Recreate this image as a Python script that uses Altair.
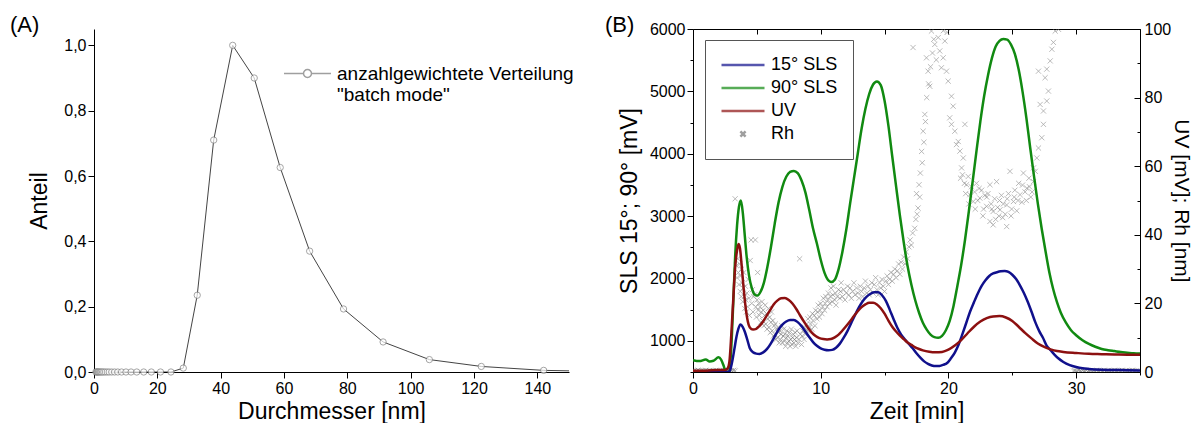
import altair as alt
import pandas as pd

FONT = "Liberation Sans"

# ---------------- Panel A data ----------------
diam = [0.6, 0.8, 1.0, 1.2, 1.4, 1.7, 2.0, 2.3, 2.7, 3.1, 3.6, 4.2, 4.8, 5.6, 6.5, 7.5, 8.7,
        10.1, 11.7, 13.5, 15.7, 18.1, 21.0, 24.3, 28.2, 32.6, 37.8, 43.8, 50.6, 58.8, 68.1,
        78.8, 91.3, 105.9, 122.3, 142.0, 164.5]
anteil = [0, 0, 0, 0, 0, 0, 0, 0, 0, 0, 0, 0, 0, 0, 0, 0, 0,
          0, 0, 0, 0, 0, 0, 0, 0.012, 0.235, 0.71, 1.0, 0.9, 0.626, 0.37,
          0.193, 0.092, 0.038, 0.017, 0.005, 0.001]
legend_a = "anzahlgewichtete Verteilung"

# ---------------- Panel B data ----------------
t_green = [0.0, 0.5, 1.0, 1.3, 1.6, 2.0, 2.2, 2.4, 2.55, 2.7, 2.85, 3.0, 3.15, 3.3, 3.45, 3.6,
           3.75, 3.9, 4.05, 4.2, 4.4, 4.6, 4.8, 5.05, 5.3, 5.55, 5.8, 6.1, 6.4, 6.7, 7.0, 7.3,
           7.6, 7.9, 8.2, 8.5, 8.8, 9.1, 9.4, 9.7, 10.0, 10.3, 10.6, 10.85, 11.1, 11.4, 11.7,
           12.0, 12.3, 12.6, 12.9, 13.2, 13.5, 13.8, 14.1, 14.4, 14.7, 15.0, 15.3, 15.6, 15.9,
           16.2, 16.5, 16.8, 17.1, 17.4, 17.7, 18.0, 18.3, 18.6, 18.9, 19.2, 19.5, 19.8, 20.1,
           20.4, 20.7, 21.0, 21.3, 21.6, 21.9, 22.2, 22.5, 22.8, 23.1, 23.4, 23.7, 24.0, 24.3,
           24.6, 24.9, 25.2, 25.5, 25.8, 26.1, 26.4, 26.7, 27.0, 27.3, 27.6, 27.9, 28.2, 28.5,
           28.8, 29.2, 29.6, 30.0, 30.5, 31.0, 31.5, 32.0, 32.5, 33.0, 33.5, 34.0, 34.5, 35.0]
v_green = [690, 675, 700, 670, 680, 735, 700, 600, 510, 500, 505, 900, 1600, 2350, 2850, 3150,
           3250, 3050, 2700, 2350, 2030, 1850, 1750, 1725, 1790, 1930, 2160, 2500, 2880, 3220, 3470, 3630,
           3710, 3725, 3690, 3570, 3380, 3100, 2800, 2560, 2300, 2090, 1970, 1945, 1980, 2150, 2430,
           2780, 3200, 3600, 4000, 4400, 4720, 4960, 5110, 5160, 5100, 4850, 4450, 3960, 3480,
           3010, 2580, 2200, 1900, 1650, 1450, 1290, 1180, 1100, 1060, 1050, 1080, 1170, 1320,
           1560, 1880, 2220, 2620, 3080, 3560, 4050, 4520, 4930, 5260, 5530, 5720, 5810, 5840,
           5830, 5750, 5600, 5350, 5000, 4580, 4100, 3640, 3200, 2800, 2440, 2100, 1830, 1620,
           1450, 1290, 1170, 1090, 1010, 950, 905, 870, 850, 835, 820, 810, 800, 795]

t_blue = [0.0, 2.8, 2.95, 3.1, 3.25, 3.4, 3.55, 3.72, 3.9, 4.05, 4.25, 4.45, 4.7, 4.95, 5.2, 5.5,
          5.8, 6.1, 6.4, 6.7, 7.0, 7.3, 7.6, 7.9, 8.2, 8.5, 8.8, 9.1, 9.4, 9.7, 10.0, 10.3, 10.6,
          10.9, 11.2, 11.5, 11.8, 12.1, 12.4, 12.7, 13.0, 13.3, 13.6, 13.9, 14.2, 14.5, 14.8, 15.1,
          15.4, 15.7, 16.0, 16.3, 16.6, 16.9, 17.2, 17.5, 17.8, 18.1, 18.4, 18.7, 19.0, 19.3, 19.6,
          19.9, 20.2, 20.5, 20.8, 21.1, 21.4, 21.7, 22.0, 22.3, 22.6, 22.9, 23.2, 23.5, 23.8, 24.1,
          24.4, 24.7, 25.0, 25.3, 25.6, 25.9, 26.2, 26.5, 26.8, 27.1, 27.4, 27.7, 28.0, 28.3, 28.6,
          29.0, 29.5, 30.0, 30.5, 31.0, 32.0, 33.0, 34.0, 35.0]
v_blue = [500, 500, 560, 700, 880, 1060, 1190, 1262, 1220, 1150, 1020, 880, 815, 795, 790, 815,
          870, 960, 1070, 1180, 1260, 1310, 1335, 1335, 1300, 1235, 1150, 1060, 980, 920, 880, 858, 850,
          855, 890, 955, 1050, 1160, 1290, 1420, 1540, 1640, 1710, 1755, 1780, 1780, 1730, 1640,
          1500, 1350, 1210, 1100, 1020, 950, 880, 800, 730, 670, 630, 605, 595, 597, 615,
          645, 720, 810, 940, 1110, 1290, 1470, 1620, 1760, 1880, 1970, 2040, 2080, 2100, 2115,
          2120, 2105, 2060, 1990, 1890, 1770, 1630, 1470, 1300, 1160, 1050, 920, 850, 780, 720,
          660, 610, 580, 560, 550, 538, 532, 528, 525]

t_uv = [0.0, 1.0, 2.0, 2.5, 2.7, 2.85, 3.0, 3.15, 3.3, 3.45, 3.56, 3.68, 3.8, 3.95, 4.1, 4.25,
        4.45, 4.7, 4.95, 5.2, 5.45, 5.7, 6.0, 6.3, 6.6, 6.9, 7.2, 7.5, 7.8, 8.1, 8.4, 8.7, 9.0,
        9.3, 9.6, 9.9, 10.2, 10.5, 10.8, 11.1, 11.4, 11.7, 12.0, 12.3, 12.6, 12.9, 13.2, 13.5,
        13.8, 14.1, 14.4, 14.7, 15.0, 15.3, 15.6, 15.9, 16.2, 16.5, 16.8, 17.1, 17.4, 17.7, 18.0,
        18.5, 19.0, 19.5, 20.0, 20.5, 21.0, 21.5, 22.0, 22.5, 23.0, 23.5, 24.0, 24.5, 25.0, 25.5,
        26.0, 26.5, 27.0, 27.5, 28.0, 28.5, 29.0, 30.0, 31.0, 32.0, 33.0, 34.0, 35.0]
v_uv = [0.4, 0.4, 0.6, 0.6, 1.0, 3.0, 11.0, 21.0, 30.5, 35.5, 37.3, 36.0, 31.5, 25.0, 19.5, 15.5,
        13.0, 12.4, 12.6, 13.4, 14.5, 16.0, 17.8, 19.6, 20.8, 21.5, 21.6, 21.0, 19.9, 18.3, 16.4, 14.6, 12.9,
        11.5, 10.5, 9.9, 9.6, 9.5, 9.6, 10.1, 10.9, 12.1, 13.4, 14.8, 16.3, 17.7, 18.9, 19.7,
        20.2, 20.2, 19.7, 18.6, 17.0, 15.0, 13.2, 11.8, 10.6, 9.6, 8.6, 7.9, 7.2, 6.7, 6.3,
        5.9, 5.75, 5.85, 6.5, 7.7, 9.3, 11.3, 13.2, 14.7, 15.7, 16.2, 16.3, 15.9, 14.9, 13.2,
        11.4, 9.8, 8.3, 7.3, 6.6, 6.1, 5.85, 5.55, 5.3, 5.2, 5.1, 5.05, 5.0]

rh_t = [0.0, 0.1, 0.2, 0.3, 0.4, 0.5, 0.6, 0.7, 0.8, 0.9, 1.0, 1.1, 1.2, 1.3, 1.4, 1.5, 1.6, 1.7,
        1.8, 1.9, 2.0, 2.1, 2.2, 2.3, 2.4, 2.5, 2.6, 2.7, 2.8, 2.9, 3.0, 3.1, 3.2, 3.3,
        3.30, 3.40, 3.45, 3.50, 3.55, 3.60, 3.65, 3.70, 3.72, 3.78, 3.80, 3.85, 3.90, 3.93, 3.98,
        4.02, 4.05, 4.10, 4.14, 4.18, 4.22, 4.28, 4.32, 4.38, 4.42, 4.48, 4.55, 4.60, 4.65, 4.70,
        4.76, 4.82, 4.88, 4.92, 4.96, 5.02, 5.06, 5.10,
        5.15, 5.20, 5.25, 5.30, 5.35, 5.40, 5.45, 5.50, 5.55, 5.60, 5.65, 5.70, 5.75, 5.80, 5.85,
        5.90, 5.95, 6.00, 6.05, 6.10, 6.15, 6.20, 6.25, 6.30, 6.35, 6.40, 6.45, 6.50, 6.55, 6.60,
        6.65, 6.70, 6.75, 6.80, 6.85, 6.90, 6.95, 7.00, 7.05, 7.10, 7.15, 7.20, 7.25, 7.30, 7.35,
        7.40, 7.45, 7.50, 7.55, 7.60, 7.65, 7.70, 7.75, 7.80, 7.85, 7.90, 7.95, 8.00, 8.05, 8.10,
        8.15, 8.20, 8.30, 8.35, 8.40, 8.50, 8.55,
        8.60, 8.70, 8.75, 8.80, 8.90, 8.95, 9.00, 9.10, 9.15, 9.20, 9.30, 9.35, 9.40, 9.50, 9.55,
        9.60, 9.70, 9.75, 9.80, 9.90, 9.95, 10.00, 10.10, 10.15, 10.20, 10.30, 10.35, 10.40, 10.50,
        10.55, 10.60, 10.70, 10.75, 10.80, 10.90, 10.95, 11.00, 11.10, 11.15, 11.20, 11.30, 11.40,
        11.50, 11.55, 11.60, 11.70, 11.80, 11.90, 12.00, 12.10, 12.20, 12.30, 12.40, 12.50, 12.60,
        12.70, 12.80, 12.90, 13.00, 13.10, 13.20, 13.30, 13.40, 13.50, 13.60, 13.70, 13.80, 13.90,
        14.00, 14.10, 14.20, 14.30, 14.40, 14.50, 14.60, 14.70, 14.80, 14.90, 15.00, 15.10, 15.20,
        15.30, 15.40, 15.50, 15.60, 15.70, 15.80, 15.90, 16.00, 16.10, 16.20, 16.30, 16.40, 16.50,
        16.60, 16.70, 16.80, 16.90, 17.00, 17.10, 17.20, 17.23, 17.36, 17.45, 17.50, 17.55, 17.62,
        17.70, 17.75, 17.80, 17.90, 17.95, 18.02, 18.08, 18.15, 18.20, 18.28, 18.30, 18.41, 18.45,
        18.54, 18.60, 18.67, 18.75, 18.85, 18.93, 19.05, 19.20, 19.32, 19.45, 19.59, 19.60, 19.72,
        19.85, 19.90, 19.98,
        20.10, 20.24, 20.24, 20.37, 20.50, 20.63, 20.77, 20.90, 21.03, 21.16, 21.29,
        20.95, 21.10, 21.25, 21.35, 21.42, 21.55, 21.60, 21.68, 21.80, 21.94, 22.05, 22.10, 22.20,
        22.30, 22.40, 22.46, 22.60, 22.70, 22.75, 22.85, 22.99, 23.00, 23.10, 23.25, 23.25, 23.35,
        23.40, 23.50, 23.50, 23.62, 23.70, 23.77, 23.85, 23.95, 24.00, 24.04, 24.15, 24.25, 24.30,
        24.45, 24.56, 24.56, 24.60, 24.70, 24.82, 24.90, 24.95, 25.09, 25.15, 25.20, 25.35, 25.45,
        25.50, 25.61, 25.75, 25.80, 25.87, 26.00, 26.10, 26.14, 26.30, 26.35, 26.45, 26.55, 26.66,
        26.66, 26.80, 26.92, 27.05, 27.05, 27.18, 27.31, 27.44, 27.44, 27.57, 27.70, 27.70, 27.83,
        27.97, 28.10, 28.22, 28.36, 28.62,
        29.8, 29.9, 30.0, 30.1, 30.2, 30.3, 30.4, 30.5, 30.6, 30.7, 30.8, 30.9, 31.0, 31.1, 31.2,
        31.3, 31.4, 31.5, 31.6, 31.7, 31.8, 31.9, 32.0, 32.1, 32.2, 32.3, 32.4, 32.5, 32.6, 32.7,
        32.8, 32.9, 33.0, 33.1, 33.2, 33.3, 33.4, 33.5, 33.6, 33.7, 33.8, 33.9, 34.0, 34.1, 34.2,
        34.3, 34.4, 34.5, 34.6, 34.7, 34.8, 34.9]
rh_v = [0.3, 0.4, 0.2, 0.3, 0.5, 0.3, 0.2, 0.4, 0.3, 0.3, 0.5, 0.2, 0.3, 0.4, 0.3, 0.2, 0.4, 0.3,
        0.5, 0.3, 0.2, 0.4, 0.3, 0.3, 0.5, 0.2, 0.3, 0.4, 0.3, 0.2, 0.4, 0.3, 0.5, 0.3,
        50.5, 31.0, 27.5, 33.0, 29.0, 25.5, 31.5, 23.5, 28.0, 22.0, 30.0, 26.0, 20.5, 24.5, 29.0,
        22.0, 18.5, 25.0, 21.0, 17.5, 23.0, 19.0, 27.0, 21.5, 16.5, 32.5, 38.5, 20.0, 24.0, 17.5,
        22.0, 22.5, 38.5, 19.0, 16.0, 21.0, 29.0, 18.0,
        20.0, 16.5, 19.0, 14.5, 17.5, 20.5, 15.0, 18.0, 13.5, 16.5, 19.5, 14.0, 17.0, 12.5, 15.5,
        18.5, 13.0, 16.0, 11.5, 14.5, 17.5, 12.0, 15.0, 10.5, 13.5, 11.0, 14.0, 9.5, 12.5, 10.0,
        13.0, 11.5, 8.5, 12.0, 9.5, 11.0, 13.5, 8.5, 10.5, 12.5, 9.0, 11.0, 7.5, 10.0, 12.0,
        8.5, 10.5, 9.0, 11.5, 7.5, 9.5, 12.5, 8.0, 10.0, 11.0, 8.5, 9.5, 11.5, 7.5, 10.0,
        12.0, 8.5, 9.5, 33.0, 11.0, 8.0, 10.5,
        12.0, 9.5, 13.0, 11.0, 14.0, 12.0, 15.5, 13.0, 16.0, 14.0, 12.5, 17.0, 15.0, 16.5, 13.5,
        18.0, 15.5, 17.5, 19.5, 16.0, 18.0, 20.0, 17.0, 19.0, 21.5, 18.0, 20.0, 22.0, 19.0,
        21.0, 23.0, 20.0, 22.0, 24.5, 20.5, 22.5, 25.0, 21.0, 23.0, 19.5, 22.0, 24.0,
        21.5, 23.5, 26.0, 22.0, 24.0, 21.0, 23.0, 25.0, 22.5, 24.5, 21.5, 23.5, 26.0,
        22.5, 24.5, 23.0, 21.5, 25.0, 23.5, 22.0, 24.5, 26.5, 23.0, 25.0, 22.5, 24.0,
        26.0, 23.0, 25.5, 27.5, 24.0, 22.5, 26.0, 24.5, 27.0, 25.0, 23.5, 26.5, 28.0,
        25.5, 27.0, 29.0, 26.5, 28.5, 30.0, 27.5, 29.5, 31.5, 28.5, 32.0, 30.0, 33.5,
        31.5, 35.0, 33.0, 36.5, 38.5, 37.0, 40.5, 94.6, 41.9, 44.5, 52.0, 46.0, 47.8,
        54.6, 51.0, 58.0, 64.3, 61.0, 70.2, 67.0, 75.1, 73.0, 91.6, 80.0, 87.7, 84.0,
        83.3, 89.0, 99.4, 93.0, 97.0, 95.5, 91.0, 97.5, 93.6, 88.7, 91.6, 99.5, 96.5,
        87.7, 99.0, 84.8,
        74.1, 80.4, 72.2, 77.5, 70.2, 66.3, 67.2, 64.4, 59.5, 62.4, 72.2,
        56.5, 57.5, 55.0, 52.0, 54.6, 57.0, 49.0, 51.7, 54.0, 49.7, 52.5, 47.5, 55.0,
        50.0, 53.5, 50.7, 53.0, 45.5, 47.5, 51.5, 48.3, 51.0, 52.0, 54.6, 43.9, 49.0,
        47.5, 46.8, 42.9, 50.5, 44.5, 55.5, 48.0, 45.5, 50.0, 47.3, 51.5, 45.0, 49.0,
        46.0, 48.7, 42.4, 50.5, 52.0, 58.5, 45.5, 47.5, 49.7, 51.0, 53.0, 47.0, 50.0,
        55.0, 51.7, 49.5, 54.5, 58.0, 52.5, 50.0, 53.6, 56.5, 54.0, 51.0, 52.5, 55.5,
        59.5, 58.5, 62.4, 65.3, 87.7, 78.0, 68.3, 72.2, 76.1, 85.8, 79.0, 88.3, 81.9,
        90.7, 94.1, 96.1, 99.4, 99.9,
        0.3, 0.4, 0.2, 0.3, 0.5, 0.3, 0.2, 0.4, 0.3, 0.3, 0.5, 0.2, 0.3, 0.4, 0.3,
        0.2, 0.4, 0.3, 0.5, 0.3, 0.2, 0.4, 0.3, 0.3, 0.5, 0.2, 0.3, 0.4, 0.3, 0.2,
        0.4, 0.3, 0.5, 0.3, 0.2, 0.4, 0.3, 0.3, 0.5, 0.2, 0.3, 0.4, 0.3, 0.2, 0.4,
        0.3, 0.5, 0.3, 0.2, 0.4, 0.3, 0.3]

series_b = ["15° SLS", "90° SLS", "UV", "Rh"]
colors_b = ["#10108c", "#118a11", "#8c1010", "#777777"]

# ---------------- frames ----------------
n = min(len(diam), len(anteil))
dfA = pd.DataFrame({"d": diam[:n], "a": anteil[:n], "kind": legend_a})
dfG = pd.DataFrame({"t": t_green, "v": v_green})
dfBl = pd.DataFrame({"t": t_blue, "v": v_blue})
dfU = pd.DataFrame({"t": t_uv, "v": v_uv})
m = min(len(rh_t), len(rh_v))
dfR = pd.DataFrame({"t": rh_t[:m], "v": rh_v[:m], "series": "Rh"})

WA, HA = 475, 343
WB, HB = 447, 343

common_axis = dict(labelFont=FONT, titleFont=FONT, labelFontSize=16, titleFontSize=23,
                   titleFontWeight="normal", labelColor="black", titleColor="black",
                   domainColor="black", tickColor="black", grid=False, labelOverlap=False)

# ---------------- Panel A ----------------
axA_x = alt.Axis(values=[0, 10, 20, 30, 40, 50, 60, 70, 80, 90, 100, 110, 120, 130, 140, 150],
                 labelExpr="datum.value % 20 == 0 && datum.value < 150 ? datum.label : ''",
                 tickSize={"condition": {"test": "datum.value % 20 == 0", "value": 6}, "value": 3},
                 labelPadding=2, titlePadding=4, labelFlush=False, **common_axis)
axA_y = alt.Axis(values=[0, 0.1, 0.2, 0.3, 0.4, 0.5, 0.6, 0.7, 0.8, 0.9, 1.0],
                 labelExpr="round(datum.value*10) % 2 == 0 ? replace(format(datum.value, '.1f'), '.', ',') : ''",
                 tickSize={"condition": {"test": "round(datum.value*10) % 2 == 0", "value": 6}, "value": 3},
                 labelPadding=2, titlePadding=12, **common_axis)
xA = alt.X("d:Q", scale=alt.Scale(domain=[0, 150], nice=False, zero=False), axis=axA_x,
           title="Durchmesser [nm]")
yA = alt.Y("a:Q", scale=alt.Scale(domain=[0, 1.05], nice=False), axis=axA_y, title="Anteil")

lineA = alt.Chart(dfA).mark_line(color="#444444", strokeWidth=1, clip=True).encode(x=xA, y=yA)
ptsA = alt.Chart(dfA).transform_filter("datum.d <= 150").mark_point(
    shape="circle", size=40, filled=True, fill="white", stroke="#808080", strokeWidth=1
).encode(x="d:Q", y="a:Q")
path_a = "M-1,0L-0.17,0M0.17,0L1,0M-0.17,0A0.17,0.17,0,1,1,0.17,0A0.17,0.17,0,1,1,-0.17,0"
legA = alt.Chart(dfA).transform_filter("false").mark_point(
    filled=False, color="#777777", strokeWidth=1, size=2209
).encode(
    x="d:Q", y="a:Q",
    shape=alt.Shape("kind:N", scale=alt.Scale(domain=[legend_a], range=[path_a]),
                    legend=alt.Legend(orient="none", legendX=189, legendY=20, title=None,
                                      labelFont=FONT, labelFontSize=19, labelColor="black",
                                      symbolSize=2209, labelOffset=5, padding=0, labelLimit=400,
                                      labelExpr="['anzahlgewichtete Verteilung', '\"batch mode\"']"))
)
textA = alt.Chart(pd.DataFrame({"txt": ["(A)"]})).mark_text(
    align="left", baseline="alphabetic", fontSize=22, font=FONT, color="black"
).encode(text="txt:N", x=alt.value(-84), y=alt.value(3))

panelA = alt.layer(lineA, ptsA, legA, textA).properties(width=WA, height=HA)

# ---------------- Panel B ----------------
xsc = alt.Scale(domain=[0, 35], nice=False, zero=False)
slssc = alt.Scale(domain=[500, 6000], nice=False, zero=False)
uvsc = alt.Scale(domain=[0, 100], nice=False, zero=False)

axB_x = alt.Axis(orient="bottom", values=[0, 5, 10, 15, 20, 25, 30, 35],
                 labelExpr="datum.value % 10 == 0 ? datum.label : ''",
                 tickSize={"condition": {"test": "datum.value % 10 == 0", "value": 6}, "value": 3},
                 labelPadding=2, titlePadding=4, labelFlush=False, **common_axis)
axB_top = alt.Axis(orient="bottom", offset=-HB, values=[0, 5, 10, 15, 20, 25, 30, 35],
                   labels=False, tickSize=5, title=None, domainColor="black", tickColor="black",
                   grid=False)
axB_left = alt.Axis(orient="left", values=[500, 1000, 1500, 2000, 2500, 3000, 3500, 4000, 4500,
                                            5000, 5500, 6000], format="d",
                    labelExpr="datum.value % 1000 == 0 ? datum.label : ''",
                    tickSize={"condition": {"test": "datum.value % 1000 == 0", "value": 6}, "value": 3},
                    labelPadding=2, titlePadding=8, **common_axis)
axB_right = alt.Axis(orient="right", values=[0, 20, 40, 60, 80, 100], ticks=False,
                     labelPadding=4, titlePadding=0,
                     **{**common_axis, "titleFontSize": 21})
axB_rticks = alt.Axis(orient="left", offset=-WB, values=[0, 10, 20, 30, 40, 50, 60, 70, 80, 90, 100],
                      labels=False, domain=False, title=None, tickColor="black", grid=False,
                      tickSize={"condition": {"test": "datum.value % 20 == 0", "value": 6}, "value": 3})

legB = alt.Legend(orient="none", legendX=12, legendY=11, title=None, labelFont=FONT,
                  labelFontSize=18, labelColor="black", symbolSize=1849, labelOffset=5,
                  clipHeight=20, rowPadding=3, padding=15, strokeColor="#555555", fillColor="white")
xpath = "M-0.12,-0.12L0.12,0.12M-0.12,0.12L0.12,-0.12"

rh = alt.Chart(dfR).mark_point(
    filled=False, size=1849, shape=xpath, color="#707070", strokeWidth=0.8, opacity=0.6, clip=True
).encode(
    x=alt.X("t:Q", scale=xsc, axis=None),
    y=alt.Y("v:Q", scale=uvsc, axis=None),
)
legend_layer = alt.Chart(dfR).transform_filter("false").mark_point(filled=False, size=1849).encode(
    color=alt.Color("series:N", scale=alt.Scale(domain=series_b, range=colors_b), legend=legB),
    shape=alt.Shape("series:N", scale=alt.Scale(domain=series_b,
                                                range=["stroke", "stroke", "stroke", xpath]), legend=legB),
    strokeWidth=alt.StrokeWidth("series:O", scale=alt.Scale(domain=series_b, range=[2.5, 2.5, 2.5, 0.8]),
                                legend=legB),
)
green = alt.Chart(dfG).mark_line(color=colors_b[1], strokeWidth=2.5, interpolate="monotone", clip=True).encode(
    x=alt.X("t:Q", scale=xsc, axis=axB_x, title="Zeit [min]"),
    y=alt.Y("v:Q", scale=slssc, axis=axB_left, title="SLS 15°; 90° [mV]"),
)
blue = alt.Chart(dfBl).mark_line(color=colors_b[0], strokeWidth=2.5, interpolate="monotone", clip=True).encode(
    x=alt.X("t:Q", scale=xsc, axis=None),
    y=alt.Y("v:Q", scale=slssc, axis=None),
)
uv = alt.Chart(dfU).mark_line(color=colors_b[2], strokeWidth=2.5, interpolate="monotone", clip=True).encode(
    x=alt.X("t:Q", scale=xsc, axis=None),
    y=alt.Y("v:Q", scale=uvsc, axis=axB_right, title="UV [mV]; Rh [nm]"),
)
frame = alt.Chart(dfU).mark_line(opacity=0).encode(
    x=alt.X("t:Q", scale=xsc, axis=axB_top),
    y=alt.Y("v:Q", scale=uvsc, axis=axB_rticks),
)
textB = alt.Chart(pd.DataFrame({"txt": ["(B)"]})).mark_text(
    align="left", baseline="alphabetic", fontSize=22, font=FONT, color="black"
).encode(text="txt:N", x=alt.value(-88), y=alt.value(3))

panelB = alt.layer(rh, green, blue, uv, frame, legend_layer, textB).resolve_scale(
    x="independent", y="independent").properties(width=WB, height=HB)

chart = alt.hconcat(panelA, panelB, spacing=31).resolve_scale(
    color="independent", shape="independent", strokeWidth="independent"
).resolve_legend(
    color="independent", shape="independent", strokeWidth="independent"
).properties(
    padding={"left": 10, "top": 14, "right": 0, "bottom": 0}
).configure(font=FONT).configure_view(stroke=None)

chart.save("out.html", embed_options={"renderer": "svg", "actions": False})
